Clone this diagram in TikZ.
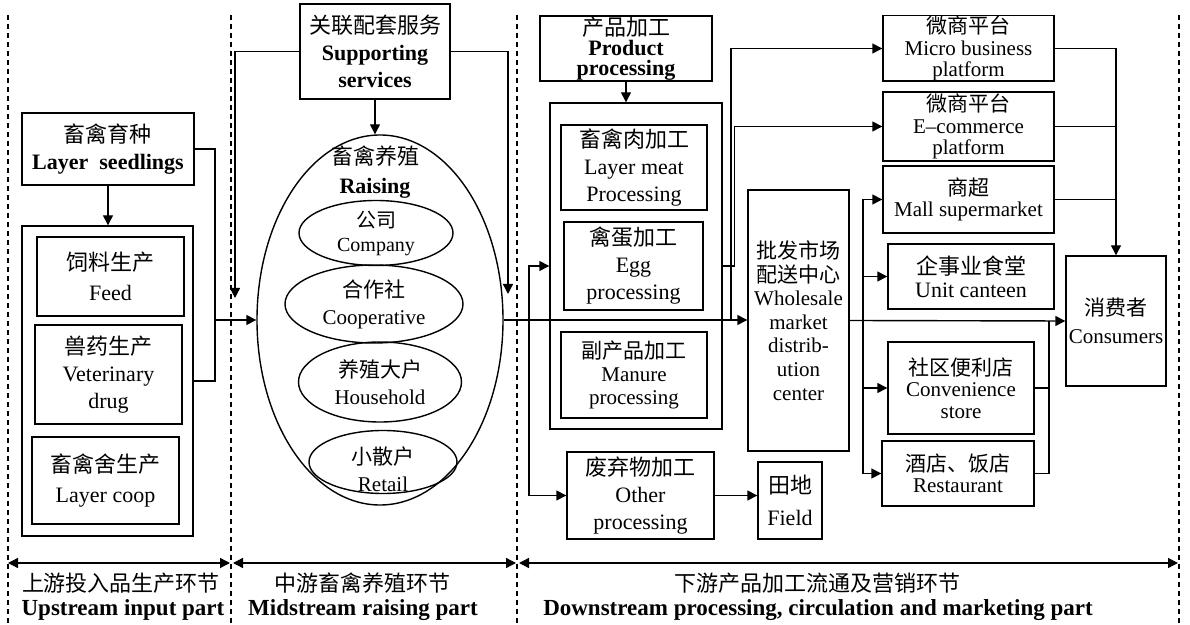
\documentclass[tikz,border=0pt]{standalone}
\usepackage{fontspec}
\setmainfont{Liberation Serif}
\newfontfamily\cjk{Noto Sans CJK SC}
\usetikzlibrary{arrows.meta,shapes.geometric}

\begin{document}
\begin{tikzpicture}[x=0.5pt,y=-0.5pt,>={Triangle[length=5pt,width=5pt]},
    box/.style={draw,line width=0.7pt,align=center,inner sep=0pt,font=\fontsize{11}{13.5}\selectfont},
    oval/.style={draw,line width=0.7pt,ellipse,inner sep=0pt,align=center,font=\fontsize{10.5}{13.5}\selectfont},
    tightbox/.style={font=\fontsize{10.5}{10.8}\selectfont},
    link/.style={line width=0.7pt},
    divider/.style={dash pattern=on 2.5pt off 2pt,line width=0.6pt}]

        % Page size (pixels of the reference)
        \useasboundingbox (0,0) rectangle (1190,625);

        % Dashed dividers between the three parts
        \foreach \x in {8,231,517,1179}
        {
            \draw[divider] (\x,15) -- (\x,625);
        }

        % Upstream input part
        \node[box,minimum width=86pt,minimum height=36pt] (seed) at (108,149) {{\cjk 畜禽育种}\\\textbf{Layer~~seedlings}};
        \node[box,minimum width=85.5pt,minimum height=155pt] (input) at (107.5,381) {};
        \node[box,minimum width=73.5pt,minimum height=39.5pt,font=\fontsize{11}{15}\selectfont] (feed) at (110.5,276.5) {{\cjk 饲料生产}\\Feed};
        \node[box,minimum width=73.5pt,minimum height=49.5pt] (vet) at (108.5,374.5) {{\cjk 兽药生产}\\Veterinary\\drug};
        \node[box,minimum width=73.5pt,minimum height=43.5pt,font=\fontsize{11}{15}\selectfont] (coop) at (105.5,480.5) {{\cjk 畜禽舍生产}\\Layer coop};

        % Midstream raising part
        \node[box,minimum width=75pt,minimum height=47.5pt] (serv) at (375,51.5) {{\cjk 关联配套服务}\\\textbf{Supporting}\\\textbf{services}};
        \node[oval,minimum width=123pt,minimum height=185pt] (raise) at (380,320) {};
        \node[font=\fontsize{11}{14.5}\selectfont,align=center] (raiselbl) at (375,172) {{\cjk 畜禽养殖}\\\textbf{Raising}};
        \node[oval,minimum width=77pt,minimum height=32.5pt,font=\fontsize{10}{12}\selectfont] (comp) at (376,233) {{\cjk 公司}\\Company};
        \node[oval,minimum width=89pt,minimum height=39pt] (coopv) at (374,304) {{\cjk 合作社}\\Cooperative};
        \node[oval,minimum width=81.5pt,minimum height=40pt] (house) at (380,382) {{\cjk 养殖大户}\\Household};
        \node[oval,minimum width=74pt,minimum height=31.5pt] (retail) at (383,462) {};
        \node[font=\fontsize{10.5}{13.5}\selectfont,align=center] (retaillbl) at (383,469) {{\cjk 小散户}\\Retail};

        % Downstream: processing
        \node[box,minimum width=86pt,minimum height=32.5pt,font=\fontsize{11}{10}\selectfont] (prod) at (626,48.5) {{\cjk 产品加工}\\\textbf{Product}\\\textbf{processing}};
        \node[box,minimum width=86pt,minimum height=163pt] (proc) at (636,266) {};
        \node[box,minimum width=73pt,minimum height=42.5pt] (meat) at (634,167.5) {{\cjk 畜禽肉加工}\\Layer meat\\Processing};
        \node[box,minimum width=69.5pt,minimum height=44pt] (egg) at (633.5,266) {{\cjk 禽蛋加工}\\Egg\\processing};
        \node[box,minimum width=73pt,minimum height=43pt,font=\fontsize{10.5}{11.5}\selectfont] (manure) at (634,375) {{\cjk 副产品加工}\\Manure\\processing};
        \node[box,minimum width=73.5pt,minimum height=43.5pt] (other) at (640.5,495.5) {{\cjk 废弃物加工}\\Other\\processing};
        \node[box,minimum width=32pt,minimum height=38.5pt,font=\fontsize{11}{16}\selectfont] (field) at (790,500.5) {{\cjk 田地}\\Field};
        \node[box,minimum width=50.5pt,minimum height=130.5pt,font=\fontsize{10.5}{11.8}\selectfont] (whole) at (798.5,320.5) {{\cjk 批发市场}\\{\cjk 配送中心}\\Wholesale\\market\\distrib-\\ution\\center};

        % Downstream: circulation and marketing
        \node[box,tightbox,minimum width=85.5pt,minimum height=32.5pt] (micro) at (968.5,48.5) {{\cjk 微商平台}\\Micro business\\platform};
        \node[box,tightbox,minimum width=85.5pt,minimum height=34.5pt] (ecom) at (968.5,126.5) {{\cjk 微商平台}\\E--commerce\\platform};
        \node[box,tightbox,minimum width=85.5pt,minimum height=33.5pt] (mall) at (968.5,199.5) {{\cjk 商超}\\Mall supermarket};
        \node[box,minimum width=83pt,minimum height=32.5pt,font=\fontsize{11}{11.5}\selectfont] (canteen) at (971,276.5) {{\cjk 企事业食堂}\\Unit canteen};
        \node[box,tightbox,minimum width=73pt,minimum height=46pt] (conv) at (961,388) {{\cjk 社区便利店}\\Convenience\\store};
        \node[box,tightbox,minimum width=76pt,minimum height=32.5pt] (rest) at (958,473.5) {{\cjk 酒店、饭店}\\Restaurant};
        \node[box,minimum width=50pt,minimum height=65pt,font=\fontsize{10.5}{14}\selectfont] (cons) at (1116,321) {{\cjk 消费者}\\Consumers};

        % Upstream connectors
        \coordinate (jin) at (215,320);
        \draw[link,->] (seed.south) -- (input.north -| seed.south);
        \draw[link,->] (seed.east) -| (jin) -- (raise.west);
        \draw[link] (input.east) -| (jin);

        % Supporting services
        \coordinate (sl) at (235,298);
        \coordinate (sr) at (508,294);
        \draw[link,->] (serv.west) -| (sl);
        \draw[link,->] (serv.east) -| (sr);
        \draw[link,->] (serv.south) -- (serv.south |- raise.north);

        % Raising to processing and market
        \coordinate (jp) at (529,320);
        \draw[link,->] (raise.east) -- (raise.east -| whole.west);
        \draw[link,->] (jp) |- (proc.west);
        \draw[link,->] (jp) |- (other.west);
        \draw[link,->] (prod.south) -- (proc.north -| prod.south);
        \draw[link,->] (other.east) -- (other.east -| field.west);

        % Processing to platforms
        \coordinate (jw) at (731,320);
        \draw[link,->] (jw) |- (micro.west);
        \draw[link,->] (proc.east) -- ++(12,0) |- (ecom.west);

        % Market to retail outlets
        \coordinate (jd) at (863,320.5);
        \draw[link,->] (jd) |- (mall.west);
        \draw[link,->] (jd) |- (canteen.west);
        \draw[link,->] (jd) |- (conv.west);
        \draw[link,->] (jd) |- (rest.west);
        \draw[link,->] (whole.east) -- (cons.west);

        % Outlets to consumers
        \coordinate (jc) at (1049,321);
        \draw[link,->] (micro.east) -| (cons.north);
        \draw[link] (ecom.east) -- (ecom.east -| cons.north);
        \draw[link] (mall.east) -- (mall.east -| cons.north);
        \draw[link] (conv.east) -| (jc);
        \draw[link] (rest.east) -| (jc);

        % Part spans
        \coordinate (b0) at (8,563);
        \coordinate (b1) at (230,563);
        \coordinate (b2) at (233,563);
        \coordinate (b3) at (516,563);
        \coordinate (b4) at (519,563);
        \coordinate (b5) at (1178,563);
        \draw[link,<->] (b0) -- (b1);
        \draw[link,<->] (b2) -- (b3);
        \draw[link,<->] (b4) -- (b5);

        % Part labels
        \node[font=\fontsize{11}{13}\selectfont] (upzh) at (121,583) {\cjk 上游投入品生产环节};
        \node[font=\fontsize{11.5}{13}\selectfont\bfseries] (upen) at (123,610) {Upstream input part};
        \node[font=\fontsize{11}{13}\selectfont] (midzh) at (362,583) {\cjk 中游畜禽养殖环节};
        \node[font=\fontsize{11.5}{13}\selectfont\bfseries] (miden) at (363,610) {Midstream raising part};
        \node[font=\fontsize{11}{13}\selectfont] (downzh) at (817,583) {\cjk 下游产品加工流通及营销环节};
        \node[font=\fontsize{11.5}{13}\selectfont\bfseries] (downen) at (818,610) {Downstream processing, circulation and marketing part};

\end{tikzpicture}
\end{document}
